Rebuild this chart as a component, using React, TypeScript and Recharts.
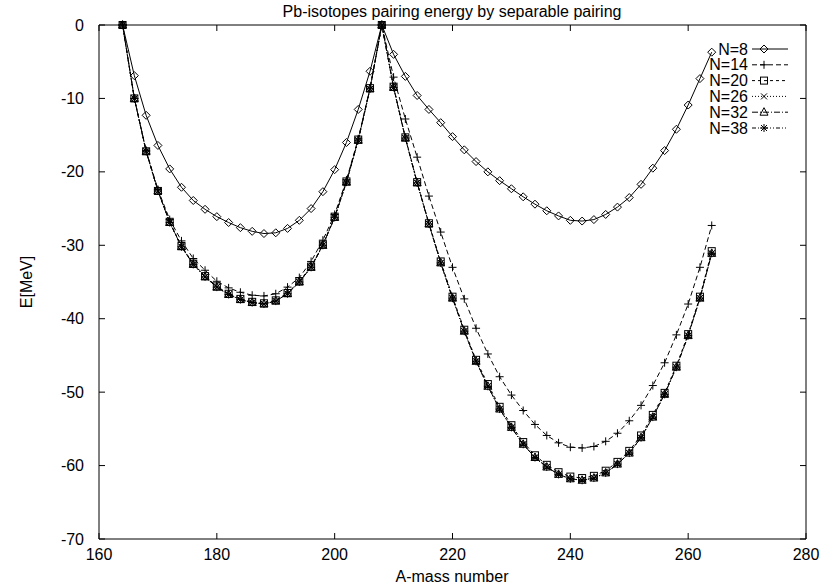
import React from 'react';
import { LineChart, Line, XAxis, YAxis } from 'recharts';

const massNumbers = [
  164, 166, 168, 170, 172, 174, 176, 178, 180, 182, 184, 186, 188, 190, 192, 194, 196, 198, 200, 202, 204, 206,
  208, 210, 212, 214, 216, 218, 220, 222, 224, 226, 228, 230, 232, 234, 236, 238, 240, 242, 244, 246, 248, 250,
  252, 254, 256, 258, 260, 262, 264,
];

const n8 = [
  0, -6.9, -12.3, -16.4, -19.6, -22.1, -23.9, -25.1, -26.1, -26.9, -27.6, -28.1, -28.4, -28.3, -27.7, -26.6, -25.0,
  -22.7, -19.7, -16.0, -11.5, -6.3, 0,
  -4.0, -7.0, -9.6, -11.5, -13.3, -15.2, -17.0, -18.6, -20.0, -21.2, -22.3, -23.4, -24.4, -25.3, -26.0, -26.6, -26.7,
  -26.5, -25.8, -24.8, -23.5, -21.7, -19.5, -17.1, -14.2, -10.9, -7.3, -3.7,
];

const n14 = [
  0, -10.0, -17.1, -22.4, -26.5, -29.4, -31.8, -33.4, -34.9, -35.8, -36.4, -36.8, -36.9, -36.6, -35.7, -34.4, -32.2,
  -29.3, -25.8, -21.1, -15.5, -8.6, 0,
  -7.1, -12.8, -18.0, -23.3, -28.2, -33.0, -37.3, -41.3, -44.8, -47.9, -50.4, -52.5, -54.4, -55.9, -56.9, -57.5, -57.6,
  -57.4, -56.7, -55.6, -53.9, -51.8, -49.1, -46.0, -42.2, -38.0, -33.0, -27.3,
];

const n20 = [
  0, -10.0, -17.2, -22.6, -26.8, -30.1, -32.5, -34.2, -35.6, -36.6, -37.3, -37.7, -37.9, -37.5, -36.5, -34.9, -32.9,
  -29.9, -26.1, -21.3, -15.6, -8.6, 0,
  -8.4, -15.3, -21.4, -27.0, -32.2, -37.0, -41.5, -45.6, -48.9, -52.0, -54.5, -56.8, -58.6, -59.9, -60.9, -61.5, -61.7,
  -61.4, -60.7, -59.5, -58.0, -55.9, -53.1, -50.1, -46.4, -42.1, -37.0, -30.8,
];

const n26 = [
  0, -10.0, -17.2, -22.6, -26.9, -30.2, -32.6, -34.3, -35.7, -36.7, -37.4, -37.8, -38.0, -37.6, -36.6, -35.0, -33.0,
  -30.0, -26.2, -21.4, -15.7, -8.7, 0,
  -8.5, -15.4, -21.5, -27.1, -32.4, -37.2, -41.7, -45.8, -49.2, -52.3, -54.8, -57.1, -58.9, -60.2, -61.2, -61.8, -62.0,
  -61.7, -61.0, -59.8, -58.3, -56.2, -53.4, -50.3, -46.6, -42.3, -37.2, -31.1,
];

const n32 = [
  0, -10.0, -17.2, -22.6, -26.9, -30.2, -32.6, -34.3, -35.7, -36.7, -37.4, -37.8, -38.0, -37.6, -36.6, -35.0, -33.0,
  -30.0, -26.2, -21.4, -15.7, -8.7, 0,
  -8.5, -15.4, -21.5, -27.1, -32.4, -37.2, -41.7, -45.8, -49.2, -52.3, -54.8, -57.1, -58.9, -60.2, -61.2, -61.8, -62.0,
  -61.7, -61.0, -59.8, -58.3, -56.2, -53.4, -50.3, -46.6, -42.3, -37.2, -31.1,
];

const n38 = [
  0, -10.0, -17.2, -22.6, -26.9, -30.2, -32.6, -34.3, -35.7, -36.7, -37.4, -37.8, -38.0, -37.6, -36.6, -35.0, -33.0,
  -30.0, -26.2, -21.4, -15.7, -8.7, 0,
  -8.5, -15.4, -21.5, -27.1, -32.4, -37.2, -41.7, -45.8, -49.2, -52.3, -54.8, -57.1, -58.9, -60.2, -61.2, -61.8, -62.0,
  -61.7, -61.0, -59.8, -58.3, -56.2, -53.4, -50.3, -46.6, -42.3, -37.2, -31.1,
];

const xTicks = [160, 180, 200, 220, 240, 260, 280];
const yTicks = [-70, -60, -50, -40, -30, -20, -10, 0];
const xDomain = [160, 280];
const yDomain = [-70, 0];

const titleText = 'Pb-isotopes pairing energy by separable pairing';
const xLabel = 'A-mass number';
const yLabel = 'E[MeV]';

const seriesDefs = [
  { key: 'n8', name: 'N=8', values: n8, marker: 'diamond', dash: undefined as string | undefined, mirror: true },
  { key: 'n14', name: 'N=14', values: n14, marker: 'plus', dash: '5 3', mirror: false },
  { key: 'n20', name: 'N=20', values: n20, marker: 'square', dash: '3 3', mirror: false },
  { key: 'n26', name: 'N=26', values: n26, marker: 'cross', dash: '1 2', mirror: false },
  { key: 'n32', name: 'N=32', values: n32, marker: 'triangle', dash: '6 2 1 2', mirror: false },
  { key: 'n38', name: 'N=38', values: n38, marker: 'star', dash: '4 2 1 2 1 2', mirror: false },
];

const data = massNumbers.map((a, i) => {
  const row: Record<string, number> = { A: a };
  seriesDefs.forEach((s) => {
    row[s.key] = s.values[i];
  });
  return row;
});

const FONT = '"Liberation Sans", Arial, Helvetica, sans-serif';
const FS = 16;

function markerShape(kind: string, cx: number, cy: number, key?: any) {
  const st = { stroke: '#000', strokeWidth: 1, fill: 'none' };
  if (cx == null || cy == null || isNaN(cx) || isNaN(cy)) return <g key={key} />;
  switch (kind) {
    case 'diamond': {
      const s = 4;
      return <polygon key={key} points={`${cx},${cy - s} ${cx + s},${cy} ${cx},${cy + s} ${cx - s},${cy}`} {...st} />;
    }
    case 'plus': {
      const s = 4;
      return <path key={key} d={`M${cx - s},${cy}H${cx + s}M${cx},${cy - s}V${cy + s}`} {...st} />;
    }
    case 'square':
      return <rect key={key} x={cx - 3.5} y={cy - 3.5} width={7} height={7} {...st} />;
    case 'cross': {
      const s = 3;
      return <path key={key} d={`M${cx - s},${cy - s}L${cx + s},${cy + s}M${cx - s},${cy + s}L${cx + s},${cy - s}`} {...st} />;
    }
    case 'triangle':
      return <polygon key={key} points={`${cx},${cy - 4.5} ${cx + 4},${cy + 3} ${cx - 4},${cy + 3}`} {...st} />;
    case 'star': {
      const s = 4;
      const t = 3;
      return (
        <path
          key={key}
          d={`M${cx - s},${cy}H${cx + s}M${cx},${cy - s}V${cy + s}M${cx - t},${cy - t}L${cx + t},${cy + t}M${cx - t},${cy + t}L${cx + t},${cy - t}`}
          {...st}
        />
      );
    }
    default:
      return <g key={key} />;
  }
}

const BottomTick = (props: any) => {
  const { x, y, payload } = props;
  return (
    <g>
      <line x1={x} y1={y} x2={x} y2={y - 6} stroke="#000" />
      <text x={x} y={y + 21} textAnchor="middle" fontSize={FS} fontFamily={FONT} fill="#000">
        {payload.value}
      </text>
    </g>
  );
};

const TopTick = (props: any) => {
  const { x, y } = props;
  return <line x1={x} y1={y} x2={x} y2={y + 6} stroke="#000" />;
};

const LeftTick = (props: any) => {
  const { x, y, payload } = props;
  return (
    <g>
      <line x1={x} y1={y} x2={x + 6} y2={y} stroke="#000" />
      <text x={x - 15} y={y} dy="0.35em" textAnchor="end" fontSize={FS} fontFamily={FONT} fill="#000">
        {payload.value}
      </text>
    </g>
  );
};

const RightTick = (props: any) => {
  const { x, y } = props;
  return <line x1={x} y1={y} x2={x - 6} y2={y} stroke="#000" />;
};

const Overlay = () => {
  const rowY0 = 49;
  const rowDy = 15.8;
  return (
    <svg
      width={820}
      height={587}
      style={{ position: 'absolute', left: 0, top: 0, pointerEvents: 'none', overflow: 'visible' }}
    >
      <text x={452} y={16.5} textAnchor="middle" fontSize={FS} fontFamily={FONT} fill="#000">
        {titleText}
      </text>
      <text x={452} y={582} textAnchor="middle" fontSize={FS} fontFamily={FONT} fill="#000">
        {xLabel}
      </text>
      <text
        x={0}
        y={0}
        transform={`translate(32,282) rotate(-90)`}
        textAnchor="middle"
        fontSize={FS}
        fontFamily={FONT}
        fill="#000"
      >
        {yLabel}
      </text>
      {seriesDefs.map((s, i) => {
        const yy = rowY0 + i * rowDy;
        return (
          <g key={s.key}>
            <text x={748} y={yy} dy="0.35em" textAnchor="end" fontSize={FS} fontFamily={FONT} fill="#000">
              {s.name}
            </text>
            <line x1={752} y1={yy} x2={788} y2={yy} stroke="#000" strokeWidth={1} strokeDasharray={s.dash} />
            {markerShape(s.marker, 764, yy)}
          </g>
        );
      })}
    </svg>
  );
};

export default function App() {
  return (
    <div style={{ position: 'absolute', left: 0, top: 0, width: 820, height: 587, background: '#fff' }}>
      <LineChart width={820} height={587} data={data} margin={{ top: 5, right: 0, bottom: 0, left: 0 }}>
        <XAxis
          dataKey="A"
          type="number"
          domain={xDomain}
          ticks={xTicks}
          interval={0}
          height={48}
          tickSize={0}
          tickMargin={0}
          tickLine={false}
          stroke="#000"
          tick={<BottomTick />}
        />
        <XAxis
          xAxisId="top"
          orientation="top"
          dataKey="A"
          type="number"
          domain={xDomain}
          ticks={xTicks}
          interval={0}
          height={20}
          tickSize={0}
          tickMargin={0}
          tickLine={false}
          stroke="#000"
          tick={<TopTick />}
        />
        <YAxis
          type="number"
          domain={yDomain}
          ticks={yTicks}
          interval={0}
          width={99}
          tickSize={0}
          tickMargin={0}
          tickLine={false}
          stroke="#000"
          tick={<LeftTick />}
        />
        <YAxis
          yAxisId="right"
          orientation="right"
          type="number"
          domain={yDomain}
          ticks={yTicks}
          interval={0}
          width={14}
          tickSize={0}
          tickMargin={0}
          tickLine={false}
          stroke="#000"
          tick={<RightTick />}
        />
        {seriesDefs.map((s) => (
          <Line
            key={s.key}
            xAxisId={s.mirror ? 'top' : 0}
            yAxisId={s.mirror ? 'right' : 0}
            dataKey={s.key}
            name={s.name}
            type="linear"
            stroke="#000"
            strokeWidth={1}
            strokeDasharray={s.dash}
            isAnimationActive={false}
            dot={(p: any) => markerShape(s.marker, p.cx, p.cy, `${s.key}-${p.index}`)}
            activeDot={false}
          />
        ))}
      </LineChart>
      <Overlay />
    </div>
  );
}
